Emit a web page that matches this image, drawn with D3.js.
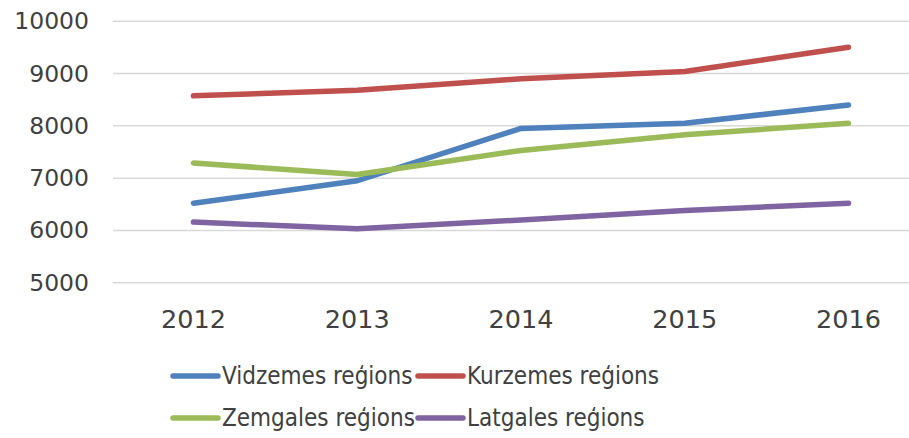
<!DOCTYPE html>
<html>
<head>
<meta charset="utf-8">
<script src="https://cdn.jsdelivr.net/npm/d3@7/dist/d3.min.js"></script>
<style>
  body { margin: 0; background: #fff; }
  text { font-family: "DejaVu Sans", Verdana, sans-serif; fill: #404040; }
  .legend text { font-family: "DejaVu Sans Condensed", "DejaVu Sans", sans-serif; }
</style>
</head>
<body>
<svg id="chart" width="909" height="438"></svg>
<script>
// Data
const years = ["2012", "2013", "2014", "2015", "2016"];
const vidzeme = [6520, 6950, 7950, 8050, 8400];
const kurzeme = [8575, 8680, 8900, 9040, 9505];
const zemgale = [7290, 7070, 7530, 7830, 8050];
const latgale = [6160, 6030, 6200, 6380, 6520];
const yTicks = [5000, 6000, 7000, 8000, 9000, 10000];

const series = [
  { name: "Vidzemes reģions", values: vidzeme, color: "#4f81bd" },
  { name: "Kurzemes reģions", values: kurzeme, color: "#c0504d" },
  { name: "Zemgales reģions", values: zemgale, color: "#9bbb59" },
  { name: "Latgales reģions", values: latgale, color: "#8064a2" }
];

const svg = d3.select("#chart");
const plotLeft = 113, plotRight = 909;

const x = d3.scalePoint()
  .domain(years)
  .range([193.5, 848.5]);

const y = d3.scaleLinear()
  .domain([5000, 10000])
  .range([282.7, 21.3]);

// Gridlines
svg.append("g")
  .selectAll("line")
  .data(yTicks)
  .join("line")
  .attr("x1", plotLeft)
  .attr("x2", plotRight)
  .attr("y1", d => y(d))
  .attr("y2", d => y(d))
  .attr("stroke", "#d9d9d9")
  .attr("stroke-width", 1.5);

// Y tick labels
svg.append("g")
  .selectAll("text")
  .data(yTicks)
  .join("text")
  .attr("x", 89)
  .attr("y", d => y(d))
  .attr("text-anchor", "end")
  .attr("dominant-baseline", "central")
  .style("font-size", "23.5px")
  .text(d => d);

// X tick labels
svg.append("g")
  .selectAll("text")
  .data(years)
  .join("text")
  .attr("x", d => x(d))
  .attr("y", 319)
  .attr("text-anchor", "middle")
  .attr("dominant-baseline", "central")
  .style("font-size", "25.5px")
  .text(d => d);

// Lines
const line = d3.line()
  .x((d, i) => x(years[i]))
  .y(d => y(d));

svg.append("g")
  .selectAll("path")
  .data(series)
  .join("path")
  .attr("fill", "none")
  .attr("stroke", d => d.color)
  .attr("stroke-width", 5.5)
  .attr("stroke-linecap", "round")
  .attr("stroke-linejoin", "round")
  .attr("d", d => line(d.values));

// Legend, two rows of two
const legendPos = [
  { x: 173, y: 376 }, { x: 418, y: 376 },
  { x: 173, y: 418 }, { x: 418, y: 418 }
];

const legend = svg.append("g")
  .attr("class", "legend")
  .selectAll("g")
  .data(series)
  .join("g")
  .attr("transform", (d, i) => `translate(${legendPos[i].x},${legendPos[i].y})`);

legend.append("line")
  .attr("x1", 0)
  .attr("x2", 45)
  .attr("stroke", d => d.color)
  .attr("stroke-width", 5.5)
  .attr("stroke-linecap", "round");

legend.append("text")
  .attr("x", 49)
  .attr("dominant-baseline", "central")
  .style("font-size", "24px")
  .text(d => d.name);
</script>
</body>
</html>
